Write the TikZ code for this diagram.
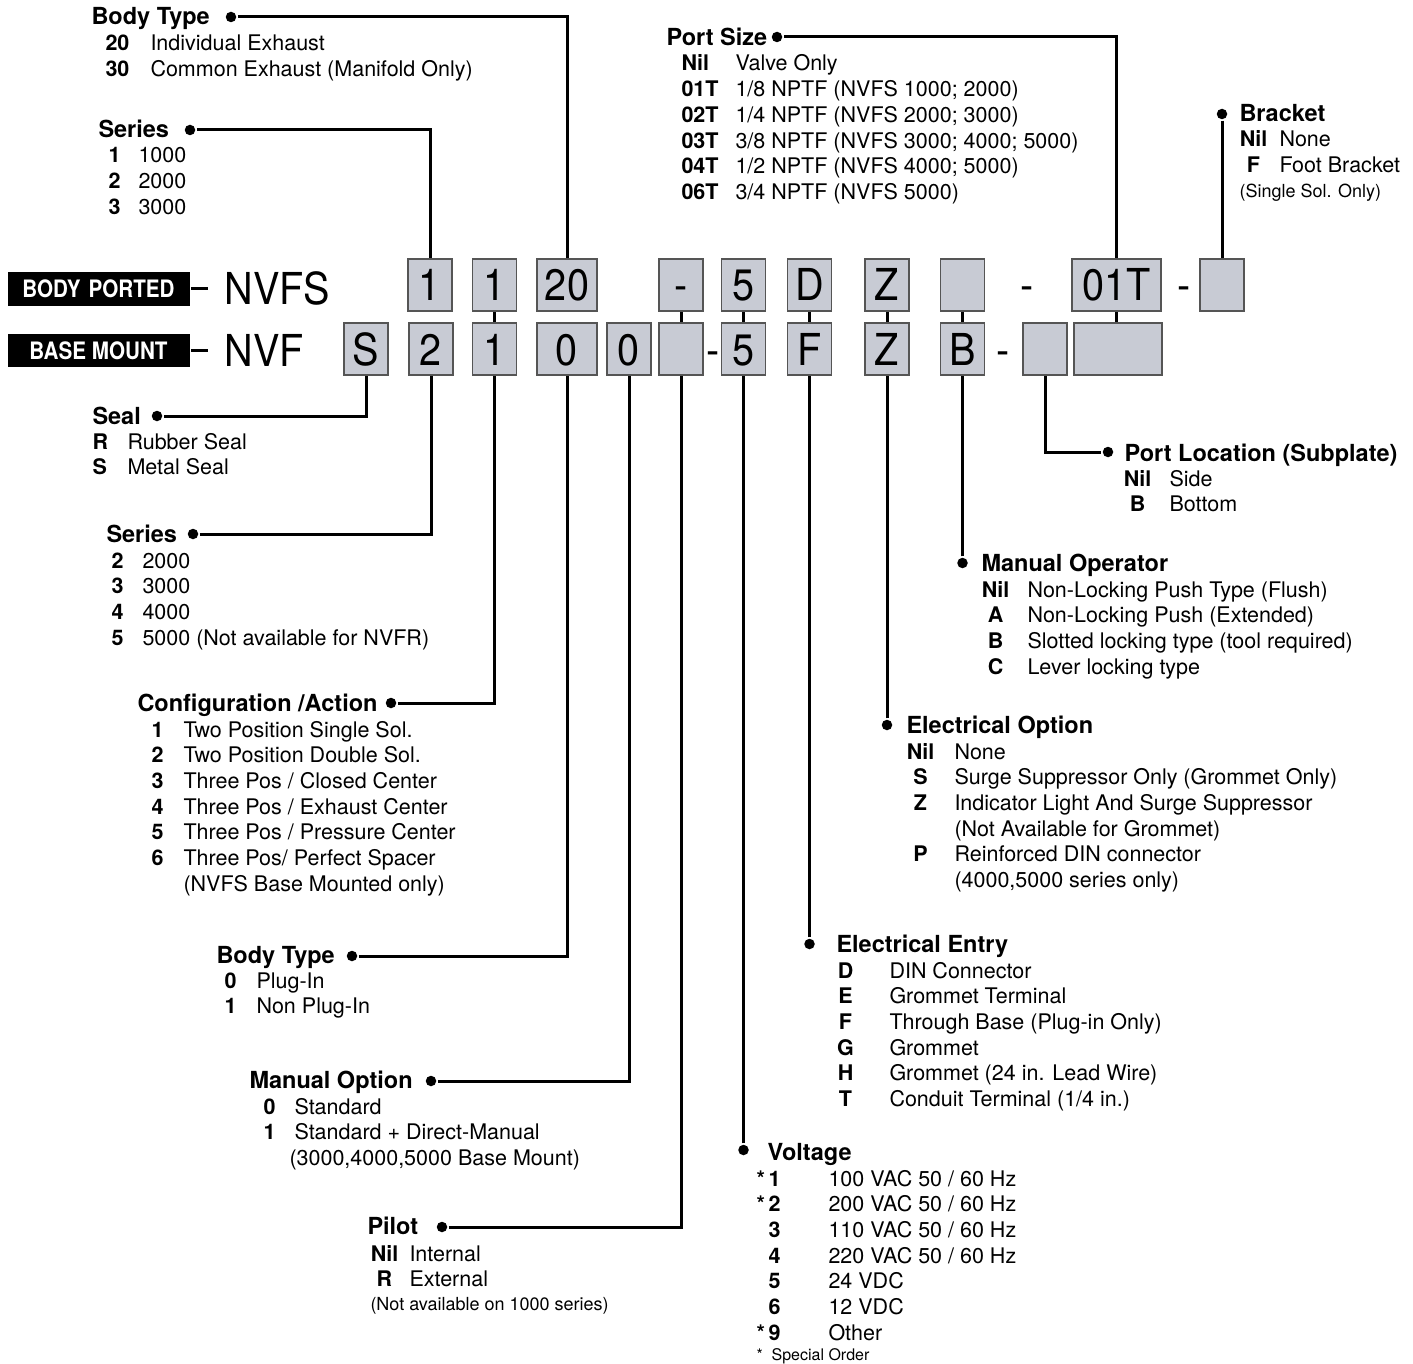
\documentclass[tikz,border=0pt]{standalone}
\usepackage{fontspec}
\setmainfont{TeX Gyre Heros}
\newfontfamily\codefont[FakeStretch=0.9]{TeX Gyre Heros}
\newfontfamily\tagfont[FakeStretch=0.86]{TeX Gyre Heros}
\usepackage{array}
\usetikzlibrary{%
  positioning,% wg. " of "
  calc%
}
\definecolor{boxfill}{RGB}{200,203,212}
\definecolor{boxline}{RGB}{85,85,85}
\newcolumntype{N}[2]{>{\bfseries}w{#1}{#2}}
\newcommand{\itemfont}{\fontsize{21.5pt}{25.7pt}\selectfont}
\newcommand{\headfont}{\fontsize{23.5pt}{28pt}\selectfont\bfseries}
\newcommand{\notefont}{\fontsize{18pt}{22pt}\selectfont}
\newcommand{\bigfont}{\codefont\fontsize{44pt}{48pt}\selectfont}

\begin{document}
\begin{tikzpicture}
  [
  x=1pt, y=-1pt, line width=3pt,
  codebox/.style={rectangle, draw=boxline, fill=boxfill, line width=1.5pt, minimum width=44pt, minimum height=52pt, inner sep=0pt, text height=32pt, text depth=0pt, font=\bigfont},
  widebox/.style={codebox, minimum width=60pt},
  codetext/.style={inner sep=0pt, text height=32pt, text depth=0pt, font=\bigfont},
  tagnode/.style={fill=black, text=white, minimum width=182pt, minimum height=34pt, inner sep=0pt, font=\tagfont\bfseries\fontsize{24pt}{26pt}\selectfont},
  dotnode/.style={circle, fill=black, inner sep=0pt, minimum size=10.5pt},
  headnode/.style={anchor=base west, inner sep=0pt, font=\headfont},
  listnode/.style={anchor=base west, inner sep=0pt, font=\itemfont},
  notenode/.style={anchor=base west, inner sep=0pt, font=\notefont},
  ]
  \useasboundingbox (0,0) rectangle (1413,1364);

  % the two order codes
  \node[tagnode] (bp) at (98.5,289) {BODY\,\,PORTED};
  \node[codetext, inner xsep=15pt, anchor=west] (nvfs) at (208,289) {NVFS};
  \draw (bp.east) -- (bp.east -| nvfs.west);
  \node[tagnode, minimum height=33pt] (bm) at (98.5,350.5) {BASE MOUNT};
  \node[codetext, inner xsep=15pt, anchor=west] (nvf) at (208,350.5) {NVF};
  \draw (bm.east) -- (bm.east -| nvf.west);

  \draw (494.5,285) -- (494.5,349);
  \draw (681,285) -- (681,349);
  \draw (743.5,285) -- (743.5,349);
  \draw (809.5,285) -- (809.5,349);
  \draw (887,285) -- (887,349);
  \draw (962.5,285) -- (962.5,349);
  \draw (1116.5,285) -- (1116.5,349);

  \node[codebox] (t1) at (430,285) {1};
  \node[codebox] (t2) at (494.5,285) {1};
  \node[widebox] (t3) at (567,285) {20};
  \node[codebox] (t4) at (681,285) {-};
  \node[codebox] (t5) at (743.5,285) {5};
  \node[codebox] (t6) at (809.5,285) {D};
  \node[codebox] (t7) at (887,285) {Z};
  \node[codebox] (t8) at (962.5,285) {};
  \node[codetext] (s1) at (1027,285) {-};
  \node[codebox, minimum width=89pt] (t9) at (1116.5,285) {01T};
  \node[codetext] (s2) at (1184,285) {-};
  \node[codebox] (t10) at (1222,285) {};

  \node[codebox] (b1) at (366,349) {S};
  \node[codebox] (b2) at (431,349) {2};
  \node[codebox] (b3) at (494.5,349) {1};
  \node[widebox] (b4) at (567,349) {0};
  \node[codebox] (b5) at (629,349) {0};
  \node[codebox] (b6) at (681,349) {};
  \node[codetext] (s3) at (713,349) {-};
  \node[codebox] (b7) at (743.5,349) {5};
  \node[codebox] (b8) at (809.5,349) {F};
  \node[codebox] (b9) at (887,349) {Z};
  \node[codebox] (b10) at (962.5,349) {B};
  \node[codetext] (s4) at (1003,349) {-};
  \node[codebox] (b11) at (1045,349) {};
  \node[codebox, minimum width=88pt] (b12) at (1118,349) {};

  % upper keys
  \node[headnode] (hBT) at (90,25) {Body Type};
  \node[dotnode] (dBT) at (231,17) {};
  \node[listnode] (lBT) at (104,51) {\begin{tabular}[t]{@{}N{l}{24pt}@{\hspace{21pt}}l@{}}
    20 & Individual Exhaust\\
    30 & Common Exhaust (Manifold Only)\end{tabular}};
  \draw (dBT) -| (t3);

  \node[headnode] (hSA) at (97,138) {Series};
  \node[dotnode] (dSA) at (190,130) {};
  \node[listnode] (lSA) at (107,163) {\begin{tabular}[t]{@{}N{l}{12pt}@{\hspace{18pt}}l@{}}
    1 & 1000\\
    2 & 2000\\
    3 & 3000\end{tabular}};
  \draw (dSA) -| (t1);

  \node[headnode] (hPS) at (665,46) {Port Size};
  \node[dotnode] (dPS) at (777,37) {};
  \node[listnode] (lPS) at (680,71) {\begin{tabular}[t]{@{}N{l}{37pt}@{\hspace{17pt}}l@{}}
    Nil & Valve Only\\
    01T & 1/8 NPTF (NVFS 1000; 2000)\\
    02T & 1/4 NPTF (NVFS 2000; 3000)\\
    03T & 3/8 NPTF (NVFS 3000; 4000; 5000)\\
    04T & 1/2 NPTF (NVFS 4000; 5000)\\
    06T & 3/4 NPTF (NVFS 5000)\end{tabular}};
  \draw (dPS) -| (t9);

  \node[dotnode] (dBR) at (1222,114) {};
  \node[headnode] (hBR) at (1238,122) {Bracket};
  \node[listnode] (lBR) at (1238,147) {\begin{tabular}[t]{@{}N{c}{28pt}@{\hspace{12pt}}l@{}}
    Nil & None\\
    F & Foot Bracket\end{tabular}};
  \node[notenode] (nBR) at (1238,198) {(Single Sol. Only)};
  \draw (dBR) -- (t10);

  % lower keys, left side
  \node[headnode] (hSL) at (91,424) {Seal};
  \node[dotnode] (dSL) at (157,416) {};
  \node[listnode] (lSL) at (91,449) {\begin{tabular}[t]{@{}N{l}{16pt}@{\hspace{19pt}}l@{}}
    R & Rubber Seal\\
    S & Metal Seal\end{tabular}};
  \draw (dSL) -| (b1);

  \node[headnode] (hSB) at (105,542) {Series};
  \node[dotnode] (dSB) at (193,534) {};
  \node[listnode] (lSB) at (110,568) {\begin{tabular}[t]{@{}N{l}{12pt}@{\hspace{19pt}}l@{}}
    2 & 2000\\
    3 & 3000\\
    4 & 4000\\
    5 & 5000 (Not available for NVFR)\end{tabular}};
  \draw (dSB) -| (b2);

  \node[headnode] (hCA) at (136,711) {Configuration /Action};
  \node[dotnode] (dCA) at (391,703) {};
  \node[listnode] (lCA) at (150,737) {\begin{tabular}[t]{@{}N{l}{12pt}@{\hspace{20pt}}l@{}}
    1 & Two Position Single Sol.\\
    2 & Two Position Double Sol.\\
    3 & Three Pos / Closed Center\\
    4 & Three Pos / Exhaust Center\\
    5 & Three Pos / Pressure Center\\
    6 & Three Pos/ Perfect Spacer\\
      & (NVFS Base Mounted only)\end{tabular}};
  \draw (dCA) -| (b3);

  \node[headnode] (hBB) at (215,963) {Body Type};
  \node[dotnode] (dBB) at (352,956) {};
  \node[listnode] (lBB) at (223,988) {\begin{tabular}[t]{@{}N{l}{12pt}@{\hspace{20pt}}l@{}}
    0 & Plug-In\\
    1 & Non Plug-In\end{tabular}};
  \draw (dBB) -| (b4);

  \node[headnode] (hMO) at (248,1088) {Manual Option};
  \node[dotnode] (dMO) at (431,1081) {};
  \node[listnode] (lMO) at (262,1114) {\begin{tabular}[t]{@{}N{l}{12pt}@{\hspace{19pt}}l@{}}
    0 & Standard\\
    1 & Standard + Direct-Manual\\
      & \kern-5pt(3000,4000,5000 Base Mount)\end{tabular}};
  \draw (dMO) -| (b5);

  \node[headnode] (hPI) at (366,1234) {Pilot};
  \node[dotnode] (dPI) at (442,1227) {};
  \node[listnode] (lPI) at (369,1261) {\begin{tabular}[t]{@{}N{c}{28pt}@{\hspace{11pt}}l@{}}
    Nil & Internal\\
    R & External\end{tabular}};
  \node[notenode] (nPI) at (369,1310) {(Not available on 1000 series)};
  \draw (dPI) -| (b6);

  % lower keys, right side
  \node[dotnode] (dVO) at (743.5,1150) {};
  \node[headnode] (hVO) at (766,1160) {Voltage};
  \node[listnode] (lVO) at (755,1186) {\begin{tabular}[t]{@{}N{r}{24pt}@{\hspace{48pt}}l@{}}
    {*}\,1 & 100 VAC 50 / 60 Hz\\
    {*}\,2 & 200 VAC 50 / 60 Hz\\
    3 & 110 VAC 50 / 60 Hz\\
    4 & 220 VAC 50 / 60 Hz\\
    5 & 24 VDC\\
    6 & 12 VDC\\
    {*}\,9 & Other\end{tabular}};
  \node[notenode, font=\fontsize{16pt}{20pt}\selectfont] (nVO) at (755,1360) {*\ \ Special Order};
  \draw (dVO) -- (b7);

  \node[dotnode] (dEE) at (809.5,944) {};
  \node[headnode] (hEE) at (835,952) {Electrical Entry};
  \node[listnode] (lEE) at (836,978) {\begin{tabular}[t]{@{}N{c}{16pt}@{\hspace{36pt}}l@{}}
    D & DIN Connector\\
    E & Grommet Terminal\\
    F & Through Base (Plug-in Only)\\
    G & Grommet\\
    H & Grommet (24 in. Lead Wire)\\
    T & Conduit Terminal (1/4 in.)\end{tabular}};
  \draw (dEE) -- (b8);

  \node[dotnode] (dEO) at (887,725) {};
  \node[headnode] (hEO) at (905,733) {Electrical Option};
  \node[listnode] (lEO) at (905,759) {\begin{tabular}[t]{@{}N{c}{28pt}@{\hspace{20pt}}l@{}}
    Nil & None\\
    S & Surge Suppressor Only (Grommet Only)\\
    Z & Indicator Light And Surge Suppressor\\
      & (Not Available for Grommet)\\
    P & Reinforced DIN connector\\
      & (4000,5000 series only)\end{tabular}};
  \draw (dEO) -- (b9);

  \node[dotnode] (dMP) at (962.5,563) {};
  \node[headnode] (hMP) at (980,571) {Manual Operator};
  \node[listnode] (lMP) at (980,597) {\begin{tabular}[t]{@{}N{c}{28pt}@{\hspace{18pt}}l@{}}
    Nil & Non-Locking Push Type (Flush)\\
    A & Non-Locking Push (Extended)\\
    B & Slotted locking type (tool required)\\
    C & Lever locking type\end{tabular}};
  \draw (dMP) -- (b10);

  \node[dotnode] (dPL) at (1108,452) {};
  \node[headnode] (hPL) at (1123,461) {Port Location (Subplate)};
  \node[listnode] (lPL) at (1122,486) {\begin{tabular}[t]{@{}N{c}{28pt}@{\hspace{18pt}}l@{}}
    Nil & Side\\
    B & Bottom\end{tabular}};
  \draw (b11) |- (dPL);

\end{tikzpicture}
\end{document}
